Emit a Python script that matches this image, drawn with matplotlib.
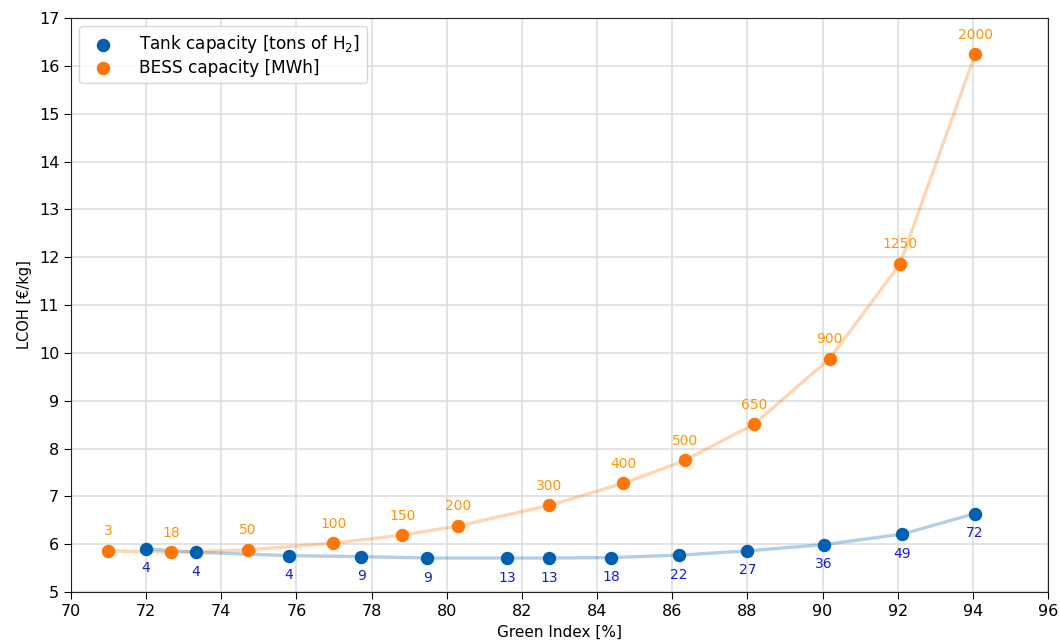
import numpy as np
import matplotlib
matplotlib.use("Agg")
import matplotlib.pyplot as plt

# Tank (H2 storage) sweep
tank_gi = [72.00, 73.33, 75.80, 77.72, 79.48, 81.60, 82.72, 84.38, 86.18, 88.00, 90.03, 92.12, 94.06]
tank_lcoh = [5.90, 5.83, 5.76, 5.74, 5.71, 5.71, 5.71, 5.72, 5.77, 5.86, 5.99, 6.21, 6.64]
tank_size = ["4", "4", "4", "9", "9", "13", "13", "18", "22", "27", "36", "49", "72"]

# BESS sweep
bess_gi = [70.99, 72.67, 74.70, 76.98, 78.82, 80.30, 82.72, 84.69, 86.33, 88.18, 90.19, 92.06, 94.06]
bess_lcoh = [5.86, 5.83, 5.88, 6.02, 6.19, 6.38, 6.81, 7.27, 7.75, 8.51, 9.88, 11.86, 16.24]
bess_size = ["3", "18", "50", "100", "150", "200", "300", "400", "500", "650", "900", "1250", "2000"]

BLUE = "#0060b0"
ORANGE = "#ff7606"

fig = plt.figure(figsize=(10.6, 6.41), dpi=100)
ax = fig.add_axes([71/1060, 1-592/641, (1048-71)/1060, (592-18)/641])

ax.plot(tank_gi, tank_lcoh, color=BLUE, alpha=0.3, lw=2.4, zorder=2)
ax.plot(bess_gi, bess_lcoh, color=ORANGE, alpha=0.3, lw=2.4, zorder=2)
ax.scatter(tank_gi, tank_lcoh, s=75, color=BLUE, zorder=3,
           label="Tank capacity [tons of H$_2$]")
ax.scatter(bess_gi, bess_lcoh, s=75, color=ORANGE, zorder=3,
           label="BESS capacity [MWh]")

for x, y, t in zip(tank_gi, tank_lcoh, tank_size):
    ax.annotate(t, (x, y), xytext=(0, -9), textcoords="offset points",
                ha="center", va="top", color="#1020d0", fontsize=10)
for x, y, t in zip(bess_gi, bess_lcoh, bess_size):
    ax.annotate(t, (x, y), xytext=(0, 9), textcoords="offset points",
                ha="center", va="bottom", color="#ff9500", fontsize=10)

ax.set_xlim(70, 96)
ax.set_ylim(5, 17)
ax.set_xticks(np.arange(70, 97, 2))
ax.set_yticks(np.arange(5, 18, 1))
ax.tick_params(labelsize=11.5, length=5)
ax.grid(True, color="#dedede", lw=1.2)
ax.set_axisbelow(True)
for sp in ax.spines.values():
    sp.set_color("#222222")

# reference crops this label at the bottom edge; keep it just inside
ax.set_xlabel("Green Index [%]", fontsize=11, labelpad=4)
ax.set_ylabel("LCOH [€/kg]", fontsize=10.5, labelpad=5)

ax.legend(loc="upper left", fontsize=12.2, borderpad=0.4, labelspacing=0.2,
          handletextpad=1.1, framealpha=0.8, edgecolor="#cccccc")

fig.savefig("out.png", dpi=100)
